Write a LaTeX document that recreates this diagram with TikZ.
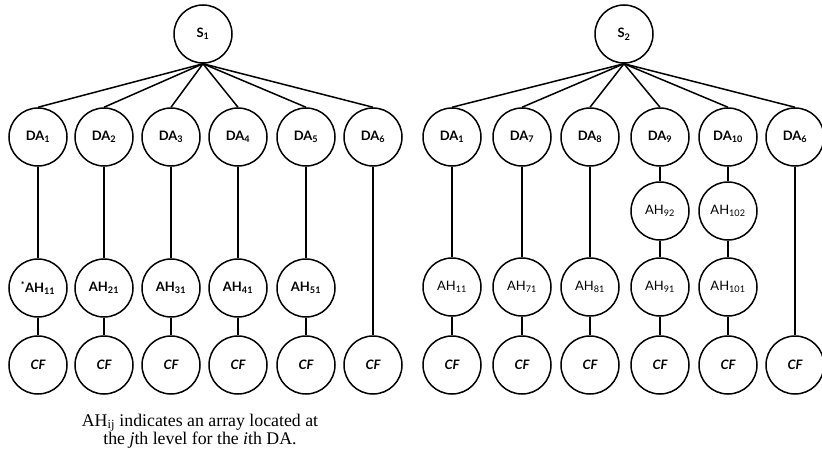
\documentclass[tikz,border=0pt]{standalone}
\usepackage{fontspec}
\setmainfont{Liberation Serif}
\newfontfamily\nodefont{Lato}
\begin{document}
\begin{tikzpicture}[x=1pt,y=-1pt,
  vert/.style={circle,draw,line width=1.5pt,minimum size=58pt,inner sep=0pt,font=\nodefont\fontsize{13}{15}\selectfont\bfseries},
  light/.style={vert,font=\nodefont\fontsize{13}{15}\selectfont},
  cf/.style={vert,font=\nodefont\fontsize{13}{15}\selectfont\bfseries\itshape},
  link/.style={line width=1.5pt}]
\useasboundingbox (0,0) rectangle (822,455);
\newcommand{\sbs}[1]{\textsubscript{#1}}
% ---- left tree ----
\node[vert] (s1) at (203,34) {S\sbs{1}};
\foreach \i/\x in {1/38,2/104,3/171,4/238,5/306,6/373}{
  \node[vert] (la\i) at (\x,137) {DA\sbs{\i}};
  \node[cf] (lc\i) at (\x,365) {CF};
  \draw[link] (s1.south) -- (la\i.north);
}
\node[vert] (lh1) at (38,288) {\textsuperscript{*}AH\sbs{11}};
\foreach \i/\x in {2/104,3/171,4/238,5/306}{
  \node[vert] (lh\i) at (\x,288) {AH\sbs{\i1}};
}
\foreach \i in {1,...,5}{
  \draw[link] (la\i.south) -- (lh\i.north);
  \draw[link] (lh\i.south) -- (lc\i.north);
}
\draw[link] (la6.south) -- (lc6.north);
\node[align=center,font=\fontsize{17.8}{18.5}\selectfont] (note) at (200,431)
  {AH\sbs{ij} indicates an array located at\\the \textit{j}th level for the \textit{i}th DA.};
% ---- right tree ----
\node[vert] (s2) at (624,34) {S\sbs{2}};
\foreach \n/\k/\x in {1/1/452,2/7/522,3/8/590,4/9/660,5/10/728,6/6/795}{
  \node[vert] (ra\n) at (\x,137) {DA\sbs{\k}};
  \node[cf] (rc\n) at (\x,365) {CF};
  \draw[link] (s2.south) -- (ra\n.north);
}
\foreach \n/\k/\x in {1/1/452,2/7/522,3/8/590,4/9/660,5/10/728}{
  \node[light] (rh\n) at (\x,287) {AH\sbs{\k1}};
  \draw[link] (rh\n.south) -- (rc\n.north);
}
\node[light] (rg4) at (660,211) {AH\sbs{92}};
\node[light] (rg5) at (728,211) {AH\sbs{102}};
\foreach \n in {1,2,3}{ \draw[link] (ra\n.south) -- (rh\n.north); }
\foreach \n in {4,5}{
  \draw[link] (ra\n.south) -- (rg\n.north);
  \draw[link] (rg\n.south) -- (rh\n.north);
}
\draw[link] (ra6.south) -- (rc6.north);
\end{tikzpicture}
\end{document}
